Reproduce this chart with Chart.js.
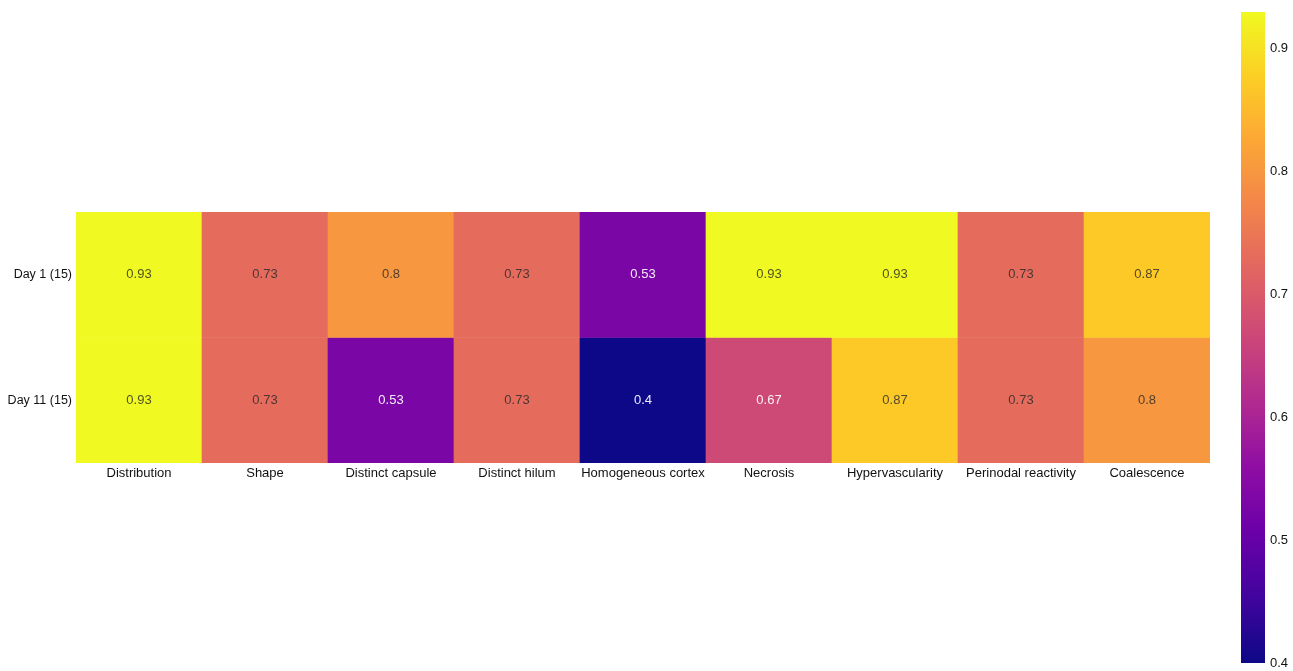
<!DOCTYPE html>
<html>
<head>
<meta charset="utf-8">
<script src="https://cdn.jsdelivr.net/npm/chart.js@4.4.1/dist/chart.umd.min.js"></script>
<style>
  body { margin: 0; background: #fff; }
  #wrap { position: relative; width: 1293px; height: 671px; }
  #heat { position: absolute; left: 0; top: 0; }
  #cbar { position: absolute; left: 1230px; top: 0; }
</style>
</head>
<body>
<div id="wrap">
  <canvas id="heat" width="1230" height="671"></canvas>
  <canvas id="cbar" width="63" height="671"></canvas>
</div>
<script>
// features along the x axis, one row per day
const features = ['Distribution', 'Shape', 'Distinct capsule', 'Distinct hilum', 'Homogeneous cortex',
                  'Necrosis', 'Hypervascularity', 'Perinodal reactivity', 'Coalescence'];
const rowLabels = ['Day 1 (15)', 'Day 11 (15)'];
const day1 = [0.93, 0.73, 0.8, 0.73, 0.53, 0.93, 0.93, 0.73, 0.87];
const day11 = [0.93, 0.73, 0.53, 0.73, 0.4, 0.67, 0.87, 0.73, 0.8];
const cbarTicks = [0.4, 0.5, 0.6, 0.7, 0.8, 0.9];
const vmin = 0.4;
const vmax = 0.93;

// plasma colormap stops
const plasma = ['#0d0887', '#41049d', '#6a00a8', '#8f0da4', '#b12a90', '#cc4778',
                '#e16462', '#f2844b', '#fca636', '#fcce25', '#f0f921'];

function hexToRgb(h) {
    return [parseInt(h.slice(1, 3), 16), parseInt(h.slice(3, 5), 16), parseInt(h.slice(5, 7), 16)];
}

function plasmaColor(v) {
    let t = (v - vmin) / (vmax - vmin);
    t = Math.max(0, Math.min(1, t));
    const pos = t * (plasma.length - 1);
    const i = Math.min(Math.floor(pos), plasma.length - 2);
    const f = pos - i;
    const a = hexToRgb(plasma[i]);
    const b = hexToRgb(plasma[i + 1]);
    const c = a.map((x, k) => Math.round(x + (b[k] - x) * f));
    return 'rgb(' + c.join(',') + ')';
}

const font = { family: 'Liberation Sans, Arial, sans-serif', size: 13 };

// write each cell's value in the middle of its bar
const cellText = {
    id: 'cellText',
    afterDatasetsDraw(chart) {
        const ctx = chart.ctx;
        ctx.save();
        ctx.font = '13px ' + font.family;
        ctx.textAlign = 'center';
        ctx.textBaseline = 'middle';
        chart.data.datasets.forEach((ds, di) => {
            const meta = chart.getDatasetMeta(di);
            meta.data.forEach((bar, i) => {
                const v = ds.values[i];
                const p = bar.getProps(['x', 'y', 'base'], true);
                ctx.fillStyle = v < 0.7 ? 'rgba(255,255,255,0.92)' : 'rgba(40,40,40,0.8)';
                ctx.fillText(String(v), p.x, (p.y + p.base) / 2);
            });
        });
        ctx.restore();
    }
};

new Chart(document.getElementById('heat'), {
    type: 'bar',
    data: {
        labels: features,
        datasets: [
            {
                values: day1,
                data: day1.map(() => [1, 2]),
                backgroundColor: day1.map(plasmaColor),
                borderWidth: 0,
                barPercentage: 1,
                categoryPercentage: 1,
                grouped: false
            },
            {
                values: day11,
                data: day11.map(() => [0, 1]),
                backgroundColor: day11.map(plasmaColor),
                borderWidth: 0,
                barPercentage: 1,
                categoryPercentage: 1,
                grouped: false
            }
        ]
    },
    options: {
        responsive: false,
        animation: false,
        layout: { padding: { top: 212, right: 20, left: 0, bottom: 0 } },
        plugins: { legend: { display: false }, tooltip: { enabled: false } },
        scales: {
            x: {
                grid: { display: false, drawTicks: false },
                border: { display: false },
                ticks: { color: '#111', font: font, padding: 3, maxRotation: 0, autoSkip: false },
                afterFit: (s) => { s.height = 208; }
            },
            y: {
                min: 0,
                max: 2,
                grid: { display: false, drawTicks: false },
                border: { display: false },
                afterBuildTicks: (s) => { s.ticks = [{ value: 0.5 }, { value: 1.5 }]; },
                ticks: {
                    color: '#111',
                    font: { family: font.family, size: 12.5 },
                    padding: 4,
                    callback: (v) => (v > 1 ? rowLabels[0] : rowLabels[1])
                },
                afterFit: (s) => { s.width = 76; }
            }
        }
    },
    plugins: [cellText]
});

// colour bar: a single floating bar filled with the colormap gradient
new Chart(document.getElementById('cbar'), {
    type: 'bar',
    data: {
        labels: ['scale'],
        datasets: [{
            data: [[vmin, vmax]],
            backgroundColor: (c) => {
                const area = c.chart.chartArea;
                if (!area) return plasma[0];
                const g = c.chart.ctx.createLinearGradient(0, area.bottom, 0, area.top);
                plasma.forEach((col, i) => g.addColorStop(i / (plasma.length - 1), col));
                return g;
            },
            borderWidth: 0,
            barPercentage: 1,
            categoryPercentage: 1
        }]
    },
    options: {
        responsive: false,
        animation: false,
        layout: { padding: { top: 12, bottom: 8, left: 11, right: 0 } },
        plugins: { legend: { display: false }, tooltip: { enabled: false } },
        scales: {
            x: { display: false },
            y: {
                position: 'right',
                min: vmin,
                max: vmax,
                grid: { display: false, drawTicks: false },
                border: { display: false },
                afterBuildTicks: (s) => { s.ticks = cbarTicks.map((v) => ({ value: v })); },
                ticks: { color: '#111', font: font, padding: 5, callback: (v) => String(v) },
                afterFit: (s) => {
                    s.width = 28;
                    s.paddingTop = 0;
                    s.paddingBottom = 0;
                }
            }
        }
    }
});
</script>
</body>
</html>
